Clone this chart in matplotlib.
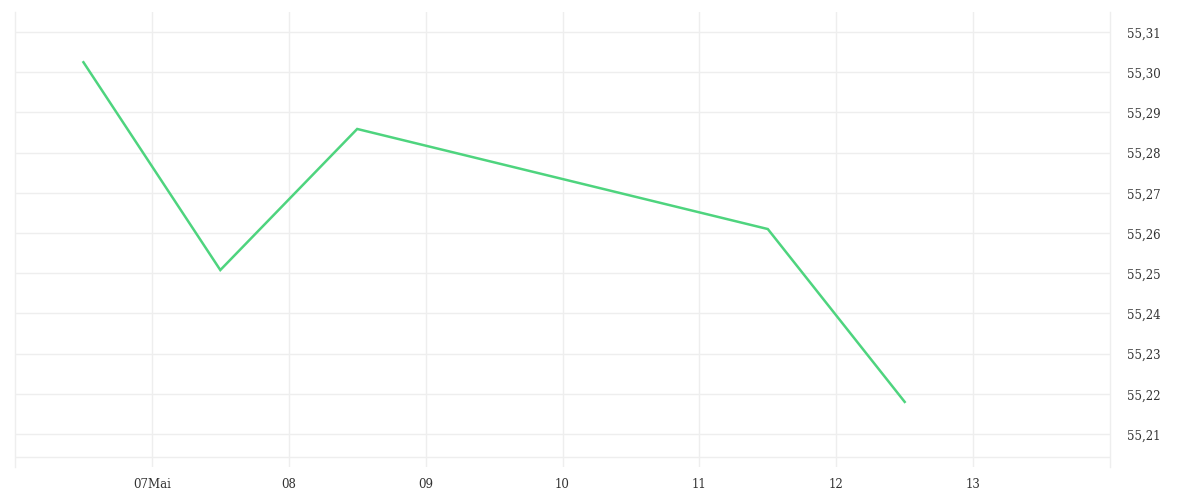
import matplotlib
matplotlib.use("Agg")
import matplotlib.pyplot as plt

# daily closes (x = day of month, plotted at mid-day)
days = [6.5, 7.5, 8.5, 11.5, 12.5]
values = [55.3025, 55.2508, 55.2859, 55.2610, 55.2180]

# axis labels
day_ticks = [7, 8, 9, 10, 11, 12, 13]
day_labels = ["07Mai", "08", "09", "10", "11", "12", "13"]
value_ticks = [55.21, 55.22, 55.23, 55.24, 55.25, 55.26, 55.27, 55.28, 55.29, 55.30, 55.31]

grid_color = "#eeeeee"
text_color = "#333333"

plt.rcParams["font.family"] = ["DejaVu Serif"]

fig = plt.figure(figsize=(12, 5), dpi=100)
# axes box: x 15..1110 px, y 12..467 px
ax = fig.add_axes([15 / 1200, 33 / 500, 1095 / 1200, 455 / 500])

ax.plot(days, values, color="#4ed47e", linewidth=1.8, solid_joinstyle="miter", zorder=3)

ax.set_xlim(6, 14)
ax.set_ylim(55.2018, 55.315)

ax.set_xticks(day_ticks)
ax.set_xticklabels(day_labels)
ax.set_yticks(value_ticks)
ax.set_yticklabels([f"{v:.2f}".replace(".", ",") for v in value_ticks])

ax.yaxis.tick_right()
ax.tick_params(axis="both", length=0, labelsize=8.5, colors=text_color)
ax.tick_params(axis="y", pad=12)
ax.tick_params(axis="x", pad=8)
# labels sit a little below their grid line
for lab in ax.get_yticklabels():
    lab.set_verticalalignment("center")
    lab.set_transform(lab.get_transform() + matplotlib.transforms.ScaledTranslation(0, -2 / 100, fig.dpi_scale_trans))

ax.grid(True, color=grid_color, linewidth=1)
ax.axhline(55.2042, color=grid_color, linewidth=1)

for side in ["top", "bottom"]:
    ax.spines[side].set_visible(False)
for side in ["left", "right"]:
    ax.spines[side].set_color(grid_color)
    ax.spines[side].set_linewidth(1)

fig.savefig("out.png", dpi=100, facecolor="white")
